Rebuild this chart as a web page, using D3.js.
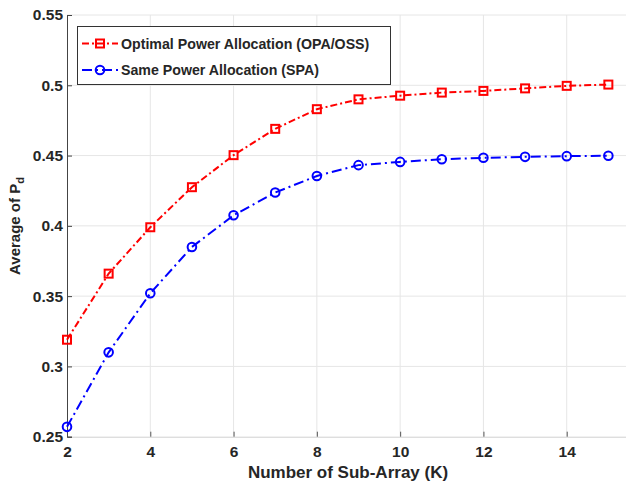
<!DOCTYPE html>
<html><head><meta charset="utf-8">
<script src="https://cdn.jsdelivr.net/npm/d3@7"></script>
<style>body{margin:0;background:#fff}svg{display:block}</style>
</head><body>
<script>
const kValues = [2,3,4,5,6,7,8,9,10,11,12,13,14,15];
const opaValues = [0.319,0.366,0.399,0.4275,0.4503,0.469,0.483,0.490,0.4926,0.4948,0.496,0.4978,0.4996,0.5005];
const spaValues = [0.257,0.310,0.352,0.385,0.4075,0.4237,0.4355,0.4432,0.4455,0.4474,0.4484,0.4491,0.4496,0.4499];
const xTicks = [2,4,6,8,10,12,14];
const yTicks = [0.25,0.3,0.35,0.4,0.45,0.5,0.55];
const seriesNames = ["Optimal Power Allocation (OPA/OSS)","Same Power Allocation (SPA)"];
const seriesColors = ["#ff0000","#0000ff"];

const W=626,H=481;
const svg=d3.select("body").append("svg").attr("width",W).attr("height",H);
const x=d3.scaleLinear().domain([2,16]).range([67,650]);
const y=d3.scaleLinear().domain([0.25,0.55]).range([436.7,15]);
const font="'Liberation Sans', Arial, sans-serif";

// grid
svg.append("g").selectAll("line").data(xTicks.slice(1)).join("line")
  .attr("x1",d=>x(d)).attr("x2",d=>x(d)).attr("y1",y(0.25)).attr("y2",y(0.55))
  .attr("stroke","#e6e6e6").attr("stroke-width",1);
svg.append("g").selectAll("line").data(yTicks.slice(1)).join("line")
  .attr("x1",x(2)).attr("x2",W).attr("y1",d=>y(d)).attr("y2",d=>y(d))
  .attr("stroke","#e6e6e6").attr("stroke-width",1);

// axes
const xAxis=svg.append("g").attr("transform",`translate(0,${y(0.25)})`)
  .call(d3.axisBottom(x).tickValues(xTicks).tickSize(-5).tickPadding(9).tickFormat(d3.format("d")));
xAxis.select(".domain").attr("stroke","#d0d0d0");
xAxis.selectAll(".tick line").attr("stroke","#555");
const yAxis=svg.append("g").attr("transform",`translate(${x(2)},0)`)
  .call(d3.axisLeft(y).tickValues(yTicks).tickSize(-5).tickPadding(4).tickFormat(d=>String(+d.toFixed(2))));
yAxis.select(".domain").attr("stroke","#444");
yAxis.selectAll(".tick line").attr("stroke","#444");
svg.selectAll(".tick text").attr("font-family",font).attr("font-size",15.5).attr("font-weight","bold").attr("fill","#262626");

// labels
svg.append("text").attr("x",348).attr("y",478).attr("text-anchor","middle")
  .attr("font-family",font).attr("font-size",17).attr("font-weight","bold").attr("fill","#262626")
  .text("Number of Sub-Array (K)");
const yl=svg.append("text").attr("transform","translate(20,226) rotate(-90)").attr("text-anchor","middle")
  .attr("font-family",font).attr("font-size",15).attr("font-weight","bold").attr("fill","#262626");
yl.append("tspan").text("Average of P");
yl.append("tspan").attr("dy",4).attr("font-size",11).text("d");

// series
const series=[opaValues,spaValues];
const dashes=["7,3,2,3","10,4,2,4"];
const line=d3.line().x((d,i)=>x(kValues[i])).y(d=>y(d));
function marker(g,i,cx,cy){
  if(i===0){
    g.append("rect").attr("x",cx-4).attr("y",cy-4).attr("width",8).attr("height",8)
     .attr("fill","none").attr("stroke",seriesColors[0]).attr("stroke-width",2);
  } else {
    g.append("circle").attr("cx",cx).attr("cy",cy).attr("r",4.3)
     .attr("fill","none").attr("stroke",seriesColors[1]).attr("stroke-width",2);
  }
}
series.forEach((vals,i)=>{
  svg.append("path").datum(vals).attr("d",line).attr("fill","none")
    .attr("stroke",seriesColors[i]).attr("stroke-width",2).attr("stroke-dasharray",dashes[i]);
  const g=svg.append("g");
  vals.forEach((v,j)=>marker(g,i,x(kValues[j]),y(v)));
});

// legend
const lg=svg.append("g");
lg.append("rect").attr("x",77.5).attr("y",26.5).attr("width",313).attr("height",58)
  .attr("fill","#fff").attr("stroke","#333").attr("stroke-width",1);
seriesNames.forEach((n,i)=>{
  const ly=43.5+i*26.5;
  lg.append("line").attr("x1",82).attr("x2",118).attr("y1",ly).attr("y2",ly)
    .attr("stroke",seriesColors[i]).attr("stroke-width",2).attr("stroke-dasharray",dashes[i]);
  marker(lg,i,100,ly);
  lg.append("text").attr("x",121).attr("y",ly+5).attr("font-family",font).attr("font-size",14.2)
    .attr("font-weight","bold").attr("fill","#262626").text(n);
});
</script>
</body></html>
